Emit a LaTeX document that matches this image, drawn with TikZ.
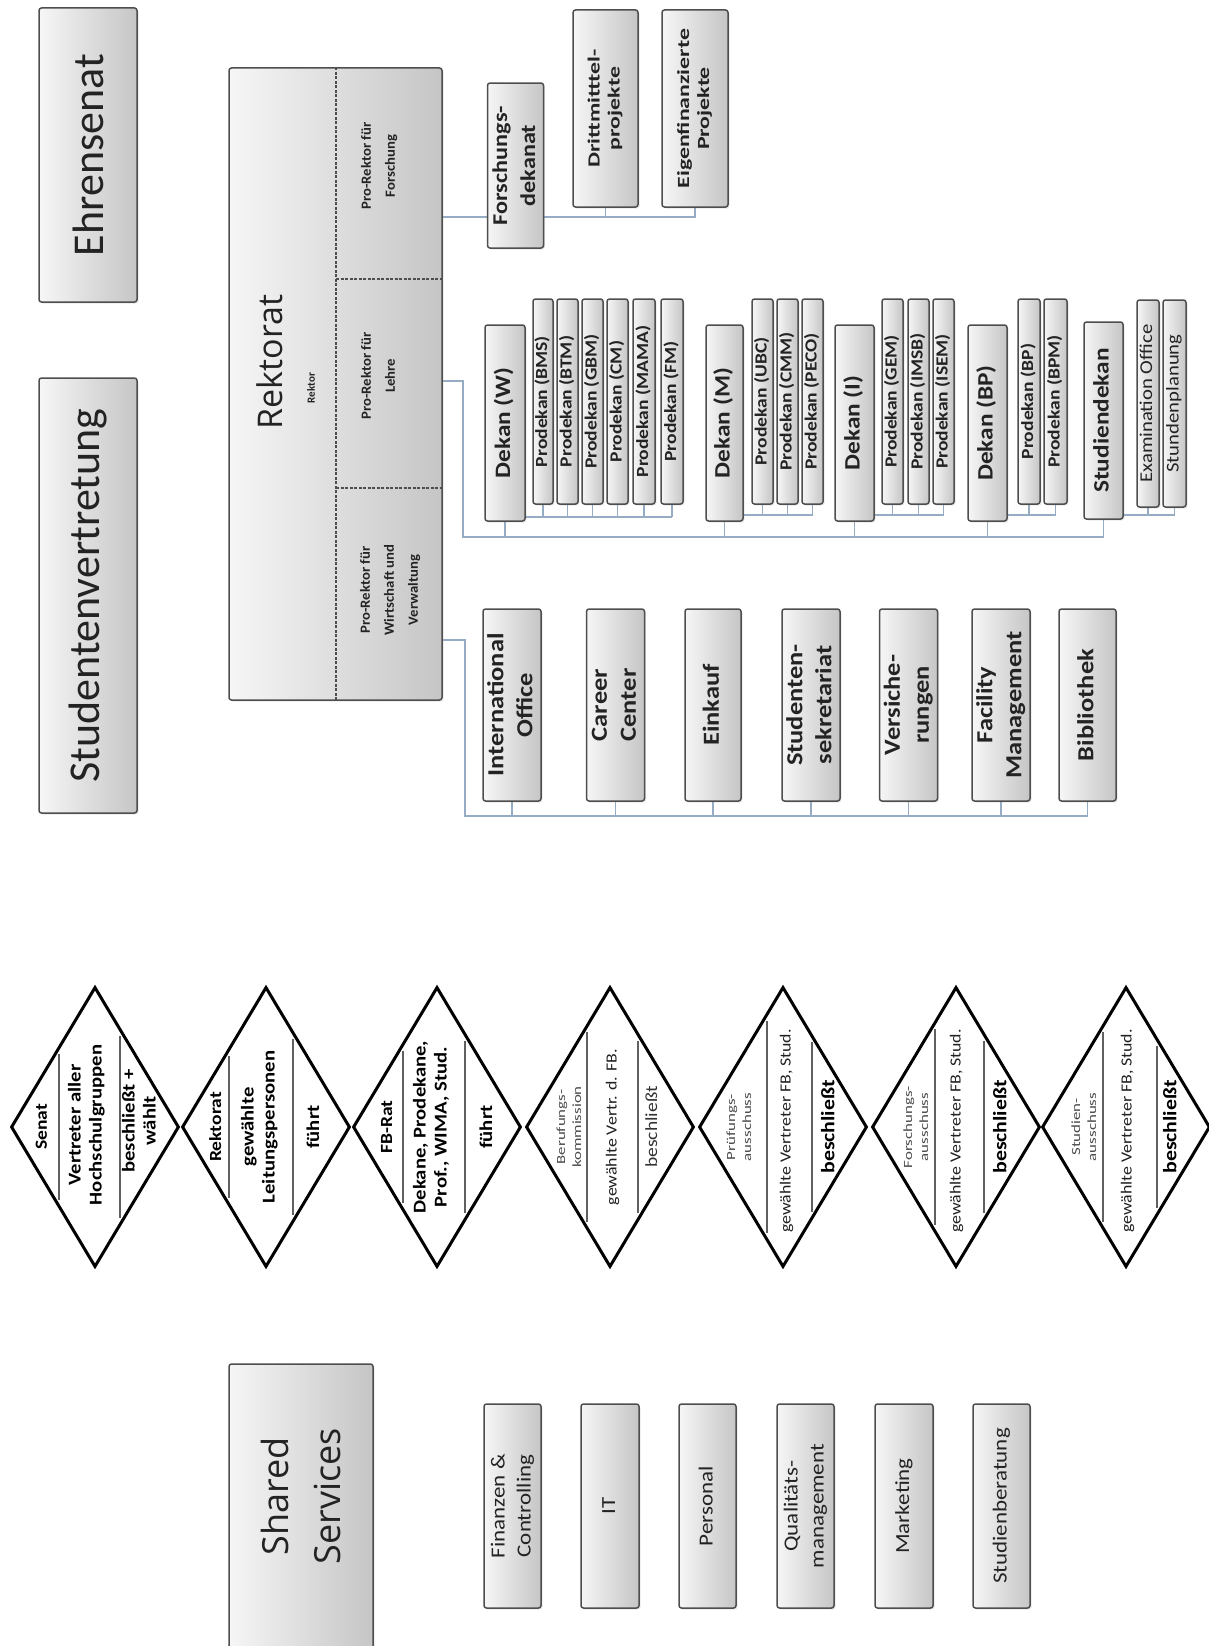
\documentclass[tikz,border=0pt]{standalone}
\usepackage{fontspec}
\setmainfont{Carlito}
\newfontfamily\titlefont{Open Sans}
\usepackage{graphicx}
\usetikzlibrary{shapes.geometric,shadows}
\pgfdeclarelayer{bg}
\pgfdeclarelayer{paper}
\pgfsetlayers{paper,bg,main}
\definecolor{conn}{RGB}{150,172,196}
\definecolor{bordergray}{RGB}{78,78,78}
\definecolor{txt}{RGB}{35,35,35}
\newcommand\vt[2][1.15]{\rotatebox{90}{\scalebox{#1}[1]{\begin{tabular}{@{}c@{}}#2\end{tabular}}}}
\newcommand\rbox[7]{\node[#1, minimum width={(#5)-(#3)}, minimum height={(#6)-(#4)}] (#2) at ({((#3)+(#5))/2},{((#4)+(#6))/2}) {#7};}
\tikzset{
  box/.style={draw=bordergray, line width=1.5pt, rounded corners=2.5pt,
    left color=gray!7, right color=gray!45, inner sep=0pt, text=txt,
    drop shadow={shadow xshift=1.5pt, shadow yshift=-1.5pt, opacity=0.18}},
  conline/.style={draw=conn, line width=1.5pt},
  rdiv/.style={draw=bordergray, line width=1.3pt, dash pattern=on 3pt off 1.5pt},
  dia/.style={diamond, draw=black, line width=3pt, fill=white, minimum width=168, minimum height=280, inner sep=0pt},
  ddiv/.style={draw=gray!75!black, line width=1.8pt},
  tx/.style={inner sep=0pt, text=txt},
  ftitle/.style={font=\fontsize{44}{50}\selectfont},
  frektorat/.style={tx, font=\titlefont\fontsize{34}{40}\selectfont},
  frektor/.style={tx, font=\fontsize{11}{13}\selectfont\bfseries},
  fcell/.style={tx, font=\fontsize{14}{24}\selectfont\bfseries},
  ffd/.style={font=\fontsize{21}{28}\selectfont\bfseries},
  fproj/.style={font=\fontsize{17}{20}\selectfont\bfseries},
  fdekan/.style={font=\fontsize{22}{26}\selectfont\bfseries},
  fpro/.style={font=\fontsize{17}{20}\selectfont\bfseries},
  fsub/.style={font=\fontsize{18}{21}\selectfont},
  foff/.style={font=\fontsize{23}{29}\selectfont\bfseries},
  fshared/.style={tx, font=\titlefont\fontsize{36}{52}\selectfont},
  fss/.style={font=\fontsize{20}{26}\selectfont},
  fdb/.style={tx, text=black, font=\fontsize{18}{21}\selectfont\bfseries},
  fdl/.style={tx, text=black, font=\fontsize{17}{20}\selectfont\bfseries},
  fds/.style={tx, text=gray!60!black, font=\fontsize{12.5}{16}\selectfont},
  fdm/.style={tx, text=gray!25!black, font=\fontsize{15.5}{18}\selectfont},
  fdr/.style={tx, text=gray!40!black, font=\fontsize{17}{20}\selectfont},
  fdbes/.style={tx, text=black, font=\fontsize{19}{22}\selectfont\bfseries},
}
\begin{document}
\begin{tikzpicture}[x=1pt,y=-1pt]
\path[use as bounding box, clip] (0,0) rectangle (1209,1646);
\begin{pgfonlayer}{paper}
\fill[white] (0,0) rectangle (1209,1646);
\end{pgfonlayer}

% title boxes
\rbox{box,ftitle}{ehr}{39}{8}{137}{302}{\rotatebox{90}{Ehrensenat}}
\rbox{box,ftitle}{stv}{39}{378}{137}{813}{\rotatebox{90}{Studentenvertretung}}

% Rektorat
\rbox{box}{rek}{229}{68}{442}{700}{}
\node[frektorat] (rekt) at (270,362) {\rotatebox{90}{Rektorat}};
\node[frektor] (rektor) at (311,388) {\rotatebox{90}{Rektor}};
\coordinate (dv) at (336,0);
\coordinate (h1) at (0,279);
\coordinate (h2) at (0,488);
\draw[rdiv] (rek.north -| dv) -- (rek.south -| dv);
\draw[rdiv] (dv |- h1) -- (rek.east |- h1);
\draw[rdiv] (dv |- h2) -- (rek.east |- h2);
\node[fcell] (prf) at (378,166) {\vt[1.05]{Pro-Rektor für\\Forschung}};
\node[fcell] (prl) at (378,376) {\vt[1.05]{Pro-Rektor für\\Lehre}};
\node[fcell] (prw) at (389,590) {\vt[1.05]{Pro-Rektor für\\Wirtschaft und\\Verwaltung}};

% Forschung
\rbox{box,ffd}{fd}{488}{83}{543}{248}{\vt{Forschungs-\\dekanat}}
\rbox{box,fproj}{dri}{573}{10}{638}{207}{\vt[1.4]{Drittmitttel-\\projekte}}
\rbox{box,fproj}{eig}{662}{10}{728}{207}{\vt[1.4]{Eigenfinanzierte\\Projekte}}

% Dekane
\rbox{box,fdekan}{dw}{485}{325}{525}{521}{\vt{Dekan (W)}}
\rbox{box,fpro}{pw1}{533}{299}{553}{504}{\vt{Prodekan (BMS)}}
\rbox{box,fpro}{pw2}{557}{299}{578}{504}{\vt{Prodekan (BTM)}}
\rbox{box,fpro}{pw3}{582}{299}{603}{504}{\vt{Prodekan (GBM)}}
\rbox{box,fpro}{pw4}{607}{299}{628}{504}{\vt{Prodekan (CM)}}
\rbox{box,fpro}{pw5}{633}{299}{655}{504}{\vt{Prodekan (MAMA)}}
\rbox{box,fpro}{pw6}{661}{299}{683}{504}{\vt{Prodekan (FM)}}
\rbox{box,fdekan}{dm}{706}{325}{743}{521}{\vt{Dekan (M)}}
\rbox{box,fpro}{pm1}{752}{299}{773}{504}{\vt{Prodekan (UBC)}}
\rbox{box,fpro}{pm2}{777}{299}{798}{504}{\vt{Prodekan (CMM)}}
\rbox{box,fpro}{pm3}{802}{299}{823}{504}{\vt{Prodekan (PECO)}}
\rbox{box,fdekan}{di}{835}{325}{874}{521}{\vt{Dekan (I)}}
\rbox{box,fpro}{pi1}{882}{299}{903}{504}{\vt{Prodekan (GEM)}}
\rbox{box,fpro}{pi2}{908}{299}{929}{504}{\vt{Prodekan (IMSB)}}
\rbox{box,fpro}{pi3}{933}{299}{954}{504}{\vt{Prodekan (ISEM)}}
\rbox{box,fdekan}{dbp}{968}{325}{1007}{521}{\vt{Dekan (BP)}}
\rbox{box,fpro}{pb1}{1018}{299}{1040}{504}{\vt{Prodekan (BP)}}
\rbox{box,fpro}{pb2}{1044}{299}{1067}{504}{\vt{Prodekan (BPM)}}
\rbox{box,fdekan}{sd}{1084}{322}{1123}{519}{\vt{Studiendekan}}
\rbox{box,fsub}{ps1}{1137}{300}{1159}{507}{\vt{Examination Office}}
\rbox{box,fsub}{ps2}{1163}{300}{1186}{507}{\vt{Stundenplanung}}

% Offices
\rbox{box,foff}{io}{483}{609}{541}{801}{\vt{International\\Office}}
\rbox{box,foff}{cc}{587}{609}{644}{801}{\vt{Career\\Center}}
\rbox{box,foff}{ek}{685}{609}{741}{801}{\vt{Einkauf}}
\rbox{box,foff}{sts}{783}{609}{839}{801}{\vt{Studenten-\\sekretariat}}
\rbox{box,foff}{vs}{880}{609}{937}{801}{\vt{Versiche-\\rungen}}
\rbox{box,foff}{fm}{973}{609}{1029}{801}{\vt{Facility\\Management}}
\rbox{box,foff}{bib}{1059}{609}{1116}{801}{\vt{Bibliothek}}

% connectors
\begin{pgfonlayer}{bg}
\coordinate (fy) at (0,217);
\draw[conline] (rek.east |- fy) -- (eig.south |- fy) -- (eig.south);
\draw[conline] (dri.south) -- (dri.south |- fy);
\coordinate (my) at (0,381);
\coordinate (mj) at (463,537);
\draw[conline] (rek.east |- my) -| (mj) -- (sd.south |- mj) -- (sd.south);
\foreach \n in {dw,dm,di,dbp} \draw[conline] (\n.south) -- (\n.south |- mj);
\coordinate (wy) at (0,517);
\draw[conline] (dw.east |- wy) -- (pw6.south |- wy);
\foreach \n in {pw1,pw2,pw3,pw4,pw5,pw6} \draw[conline] (\n.south) -- (\n.south |- wy);
\coordinate (sy) at (0,515);
\draw[conline] (dm.east |- sy) -- (pm3.south |- sy);
\foreach \n in {pm1,pm2,pm3} \draw[conline] (\n.south) -- (\n.south |- sy);
\draw[conline] (di.east |- sy) -- (pi3.south |- sy);
\foreach \n in {pi1,pi2,pi3} \draw[conline] (\n.south) -- (\n.south |- sy);
\draw[conline] (dbp.east |- sy) -- (pb2.south |- sy);
\foreach \n in {pb1,pb2} \draw[conline] (\n.south) -- (\n.south |- sy);
\draw[conline] (sd.east |- sy) -- (ps2.south |- sy);
\foreach \n in {ps1,ps2} \draw[conline] (\n.south) -- (\n.south |- sy);
\coordinate (oy) at (0,640);
\coordinate (oj) at (465,816);
\draw[conline] (rek.east |- oy) -| (oj) -- (bib.south |- oj) -- (bib.south);
\foreach \n in {io,cc,ek,sts,vs,fm} \draw[conline] (\n.south) -- (\n.south |- oj);
\end{pgfonlayer}

% diamonds
\foreach \i/\cx in {1/95,2/266,3/437,4/610,5/783,6/956,7/1126}
  \node[dia] (d\i) at (\cx,1127) {};
\foreach \cx/\a in {95/-36,95/25,266/-37,266/27,437/-34,437/28,610/-23,610/28,783/-16,783/29,956/-21,956/28,1126/-23,1126/31}
  \draw[ddiv] ({\cx+\a},{1127-140*(1-abs(\a)/84)+7}) -- ({\cx+\a},{1127+140*(1-abs(\a)/84)-7});

\node[fdl] (t1a) at (43,1127) {\vt{Senat}};
\node[fdb] (t1b) at (87,1125) {\vt{Vertreter aller\\Hochschulgruppen}};
\node[fdb] (t1c) at (141,1121) {\vt{beschließt +\\wählt}};
\node[fdl] (t2a) at (217,1127) {\vt{Rektorat}};
\node[fdb] (t2b) at (260,1127) {\vt{gewählte\\Leitungspersonen}};
\node[fdb] (t2c) at (315,1127) {\vt{führt}};
\node[fdl] (t3a) at (388,1127) {\vt{FB-Rat}};
\node[fdb] (t3b) at (432,1127) {\vt{Dekane, Prodekane,\\Prof., WIMA, Stud.}};
\node[fdb] (t3c) at (488,1127) {\vt{führt}};
\node[fds] (t4a) at (570,1127) {\vt[1.35]{Berufungs-\\kommission}};
\node[fdm] (t4b) at (613,1127) {\vt{gewählte Vertr. d. FB.}};
\node[fdr] (t4c) at (653,1127) {\vt{beschließt}};
\node[fds] (t5a) at (740,1127) {\vt[1.35]{Prüfungs-\\ausschuss}};
\node[fdm] (t5b) at (787,1131) {\vt{gewählte Vertreter FB, Stud.}};
\node[fdbes] (t5c) at (830,1127) {\vt{beschließt}};
\node[fds] (t6a) at (917,1127) {\vt[1.35]{Forschungs-\\ausschuss}};
\node[fdm] (t6b) at (957,1131) {\vt{gewählte Vertreter FB, Stud.}};
\node[fdbes] (t6c) at (1002,1127) {\vt{beschließt}};
\node[fds] (t7a) at (1085,1127) {\vt[1.35]{Studien-\\ausschuss}};
\node[fdm] (t7b) at (1128,1131) {\vt{gewählte Vertreter FB, Stud.}};
\node[fdbes] (t7c) at (1172,1127) {\vt{beschließt}};

% Shared services
\rbox{box}{shs}{229}{1364}{373}{1670}{}
\node[fshared] (shst) at (304,1496) {\rotatebox{90}{\begin{tabular}{@{}c@{}}Shared\\Services\end{tabular}}};
\rbox{box,fss}{fin}{484}{1404}{541}{1608}{\vt{Finanzen \&\\Controlling}}
\rbox{box,fss}{it}{581}{1404}{639}{1608}{\vt{IT}}
\rbox{box,fss}{pers}{679}{1404}{736}{1608}{\vt{Personal}}
\rbox{box,fss}{qm}{777}{1404}{834}{1608}{\vt{Qualitäts-\\management}}
\rbox{box,fss}{mkt}{875}{1404}{933}{1608}{\vt{Marketing}}
\rbox{box,fss}{stb}{973}{1404}{1030}{1608}{\vt{Studienberatung}}
\end{tikzpicture}
\end{document}
